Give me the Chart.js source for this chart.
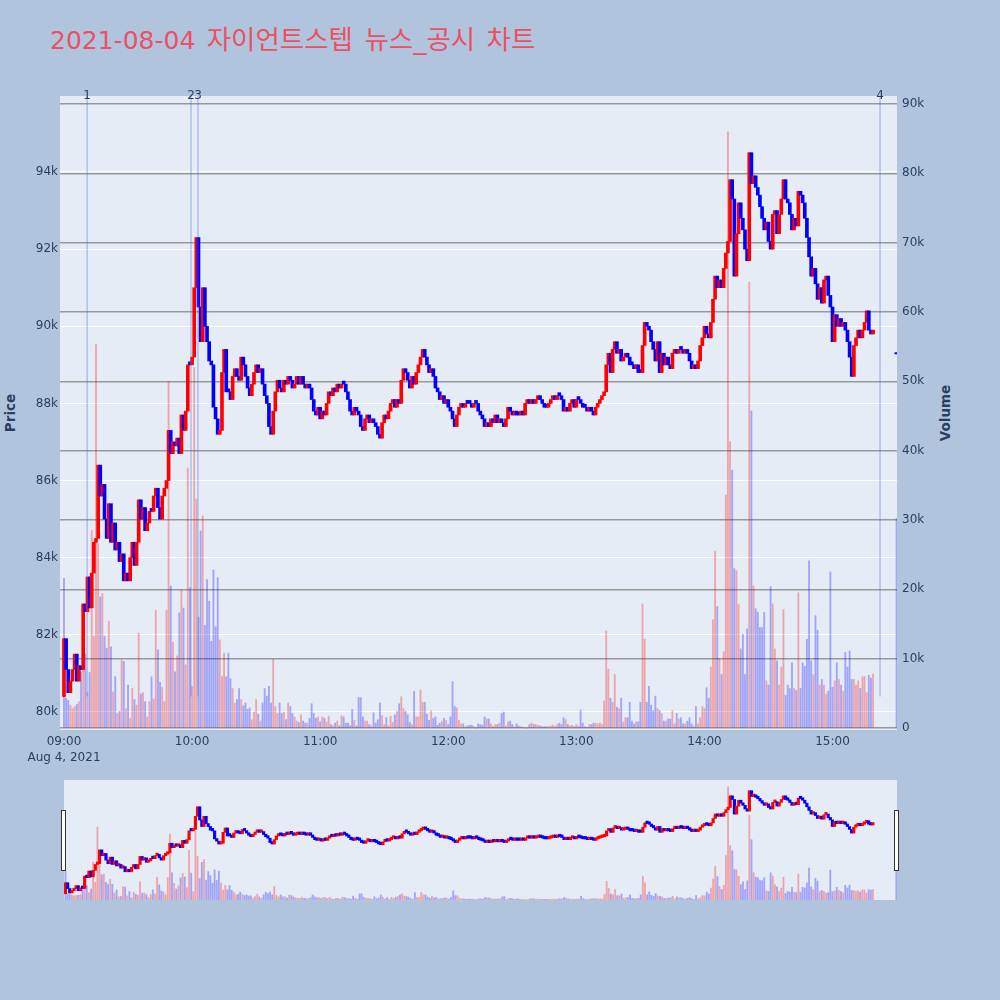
<!DOCTYPE html>
<html>
<head>
<meta charset="utf-8">
<script src="https://cdn.jsdelivr.net/npm/chart.js@4.4.0/dist/chart.umd.min.js"></script>
<style>
  body { margin: 0; background: #b0c4de; }
  #wrap { position: relative; width: 1000px; height: 1000px; font-family: "DejaVu Sans", "Noto Sans CJK KR", sans-serif; }
  #title { position: absolute; left: 50px; top: 23px; font-size: 26.5px; line-height: 34px; word-spacing: 3px; color: rgb(236, 80, 99); white-space: nowrap; }
  #title .date { font-size: 25px; }
  .axis-title { position: absolute; font-size: 13.5px; font-weight: bold; color: #2a3f5f; white-space: nowrap;
    transform: translate(-50%, -50%) rotate(-90deg); }
  canvas { position: absolute; left: 0; }
  .handle { position: absolute; top: 810px; width: 3px; height: 59px; background: #fff; border: 1px solid #333; }
</style>
</head>
<body>
<div id="wrap">
  <div id="title"><span class="date">2021-08-04</span> 자이언트스텝 뉴스_공시 차트</div>
  <div class="axis-title" style="left:10px; top:413px;">Price</div>
  <div class="axis-title" style="left:945px; top:413px;">Volume</div>
  <canvas id="main" width="1000" height="780" style="top:0; width:1000px; height:780px"></canvas>
  <canvas id="slider" width="1000" height="120" style="top:780px; width:1000px; height:120px"></canvas>
  <div class="handle" style="left:61px"></div>
  <div class="handle" style="left:894px"></div>
</div>
<script>
// 1-minute candles from 09:00, one close per minute
const firstOpen = 80400;
const prevDayClose = 82000;
const closes = [
  81900, 81100, 80500, 80800, 81100, 81500, 80800, 81200, 81100, 82800,
  82600, 83500, 82700, 83600, 84400, 84500, 86400, 85600, 85900, 85000,
  84500, 85400, 84400, 84900, 84200, 84400, 83900, 84100, 83400, 83600,
  83400, 84000, 84400, 83800, 84400, 85500, 85000, 85300, 84700, 84900,
  85200, 85200, 85600, 85800, 85300, 85000, 85600, 85800, 86000, 87300,
  86700, 87000, 86900, 87100, 86700, 87700, 87300, 87800, 89000, 89000,
  89200, 91000, 92300, 90500, 89600, 91000, 90000, 89600, 89100, 89000,
  87900, 87600, 87200, 87300, 88800, 89400, 88300, 88300, 88100, 88700,
  88900, 88700, 88600, 89200, 89000, 88700, 88400, 88200, 88500, 88800,
  89000, 88800, 88900, 88500, 88200, 88000, 87400, 87200, 87800, 88300,
  88600, 88400, 88300, 88600, 88500, 88700, 88600, 88400, 88500, 88700,
  88500, 88700, 88500, 88400, 88500, 88400, 88100, 87800, 87700, 87900,
  87600, 87800, 87700, 88000, 88300, 88200, 88400, 88300, 88500, 88400,
  88500, 88500, 88300, 88100, 87800, 87700, 87900, 87800, 87700, 87400,
  87300, 87600, 87700, 87500, 87600, 87500, 87400, 87200, 87100, 87500,
  87700, 87600, 87800, 88000, 88100, 87900, 88100, 88000, 88600, 88900,
  88800, 88600, 88400, 88700, 88500, 88800, 89000, 89200, 89400, 89200,
  89000, 88800, 88900, 88700, 88400, 88300, 88100, 88200, 88000, 88100,
  87900, 87800, 87600, 87400, 87700, 87900, 88000, 87900, 88000, 88000,
  88000, 87900, 88000, 88000, 87800, 87700, 87600, 87400, 87500, 87400,
  87600, 87500, 87700, 87500, 87600, 87500, 87400, 87600, 87900, 87800,
  87700, 87800, 87700, 87700, 87800, 87700, 88000, 88100, 88000, 88100,
  88000, 88100, 88200, 88100, 88000, 87900, 87900, 88000, 88100, 88200,
  88100, 88200, 88200, 88100, 87800, 87900, 87800, 88000, 88100, 87900,
  88100, 88100, 88000, 87900, 87900, 87800, 87900, 87800, 87700, 87900,
  88000, 88100, 88200, 88300, 89000, 89300, 88800, 89400, 89600, 89300,
  89400, 89100, 89200, 89300, 89200, 89000, 89000, 88900, 89000, 88800,
  88800, 89500, 90100, 90000, 89900, 89600, 89400, 89100, 89600, 88800,
  89300, 89000, 89200, 89000, 88900, 89300, 89400, 89300, 89400, 89400,
  89300, 89400, 89300, 89100, 88900, 89000, 88900, 89100, 89500, 89700,
  90000, 89800, 89700, 90100, 90700, 91300, 91000, 91200, 91000, 91500,
  91900, 92200, 93800, 93300, 91300, 92400, 93200, 92800, 92500, 92000,
  91700, 94500, 93700, 93900, 93600, 93400, 93100, 92800, 92500, 92700,
  92200, 92000, 92900, 93000, 92400, 92900, 93300, 93800, 93300, 93200,
  92900, 92500, 92800, 92600, 93500, 93400, 93200, 92800, 92300, 91800,
  91300, 91500, 91100, 90700, 91000, 90600, 91200, 91300, 90800, 90500,
  89600, 90300, 90000, 90200, 90000, 90100, 89900, 89600, 89200, 88700,
  89500, 89700, 89900, 89700, 89900, 90100, 90400, 89900, 89800, 89900
];
const volumes = [
  21600, 4300, 4000, 3300, 2800, 3100, 3400, 3800, 8100, 11000,
  10700, 5200, 8000, 28500, 13200, 55300, 26600, 18900, 19400, 13200,
  11500, 15400, 11700, 5200, 7400, 2100, 2400, 9800, 9600, 2800,
  6200, 1400, 5700, 4100, 3300, 13700, 4900, 5100, 3800, 1600,
  3800, 7400, 4200, 17000, 11300, 6600, 5900, 3800, 17000, 50000,
  20500, 12400, 8100, 10400, 16600, 19900, 17300, 9100, 37500, 20200,
  6000, 52000, 33000, 16000, 28400, 30600, 14800, 21400, 18300, 12500,
  22800, 14600, 21700, 12700, 7400, 10800, 7400, 10800, 7100, 5700,
  3600, 4100, 5700, 4100, 3200, 3600, 2700, 2900, 1200, 2300,
  4100, 2000, 1000, 3600, 5700, 4600, 6000, 3600, 9900, 3100,
  2100, 3600, 2100, 2300, 1200, 3600, 3100, 2100, 1600, 1000,
  800, 1900, 1000, 700, 700, 1400, 3500, 2100, 1400, 1600,
  900, 1600, 1400, 900, 1700, 500, 300, 700, 1000, 300,
  1800, 1600, 700, 700, 300, 2700, 1100, 300, 4400, 4400,
  1600, 1000, 1000, 500, 300, 2200, 700, 1200, 3600, 1800,
  500, 1500, 300, 1700, 800, 1900, 2400, 3500, 4500, 2800,
  2400, 1900, 800, 500, 5300, 1600, 1600, 5500, 3700, 3700,
  2000, 1100, 2500, 1400, 1600, 400, 700, 1000, 1400, 1100,
  500, 1600, 6700, 3100, 2900, 1100, 600, 600, 200, 300,
  400, 400, 200, 0, 600, 500, 400, 1600, 1300, 1300,
  600, 200, 500, 500, 700, 2100, 2300, 300, 900, 1000,
  500, 200, 600, 300, 200, 100, 0, 0, 500, 700,
  500, 500, 400, 300, 200, 200, 200, 200, 300, 400,
  200, 500, 700, 500, 1500, 1200, 500, 300, 400, 200,
  500, 200, 2600, 700, 200, 100, 500, 500, 700, 700,
  600, 700, 500, 3900, 14000, 8500, 4300, 3700, 7700, 3000,
  2800, 4300, 900, 1500, 1500, 3700, 1000, 600, 900, 900,
  3700, 17900, 12800, 3700, 6000, 3300, 2500, 4600, 2800, 2500,
  2100, 1000, 1000, 1300, 1300, 2500, 600, 2100, 1300, 1500,
  600, 600, 1000, 1500, 600, 300, 3100, 600, 1500, 3100,
  2800, 5800, 4300, 8800, 15600, 25500, 17500, 10000, 7700, 11000,
  33600, 86000, 41300, 37200, 23000, 22700, 17800, 11400, 13500, 7700,
  14300, 64300, 45700, 20500, 17200, 16700, 14500, 14500, 16700, 6800,
  6200, 20400, 17900, 11400, 9700, 6200, 8800, 17100, 4700, 6200,
  5700, 9400, 5700, 5400, 19500, 5700, 9400, 8900, 12800, 24100,
  9700, 7700, 16200, 14100, 6200, 7000, 6200, 4900, 5300, 22500,
  5900, 6800, 9400, 7000, 6200, 5300, 10900, 8800, 11100, 7000,
  7000, 6200, 6800, 5700, 7400, 7400, 5100, 7600, 7200, 7800
];
// closing auction (single price)
const auctionTime = "15:30";
const auctionPrice = 89300;
const auctionVolume = 30200;

const newsTimes = ["09:10:50", "09:59:30", "10:02:45", "15:22:15"];
const newsLabels = ["1", "2", "3", "4"];

const hourTicks = ["09:00", "10:00", "11:00", "12:00", "13:00", "14:00", "15:00"];
const dateLabel = "Aug 4, 2021";
const priceTicks = [80000, 82000, 84000, 86000, 88000, 90000, 92000, 94000];
const volumeTicks = [0, 10000, 20000, 30000, 40000, 50000, 60000, 70000, 80000, 90000];

const UP = "#ff0000";
const DOWN = "#0000ff";
const UP_VOL = "rgba(255, 0, 0, 0.3)";
const DOWN_VOL = "rgba(0, 0, 255, 0.3)";
const PRICE_RANGE = [79533, 95970];
const VOL_RANGE = [-288, 91154];
const NEWS_FLOOR = 80400;

Chart.defaults.font.family = "'DejaVu Sans', sans-serif";
Chart.defaults.font.size = 12;
Chart.defaults.color = "#2a3f5f";

function toMinutes(t) {
  const p = t.split(":").map(Number);
  return p[0] * 60 + p[1] + (p[2] || 0) / 60 - 540;
}

const opens = closes.map((c, i) => (i === 0 ? firstOpen : closes[i - 1]));
const candleData = closes.map((c, i) => ({ x: i, y: [opens[i], c] }));
const candleColors = closes.map((c, i) => (c > opens[i] ? UP : DOWN));
const volData = volumes.map((v, i) => ({ x: i, y: v }));
const volColors = volumes.map((v, i) =>
  closes[i] > (i === 0 ? prevDayClose : closes[i - 1]) ? UP_VOL : DOWN_VOL);
volData.push({ x: toMinutes(auctionTime), y: auctionVolume });
volColors.push(auctionPrice > closes[closes.length - 1] ? UP_VOL : DOWN_VOL);

function makeDatasets(candleWidth, volWidth, minLen) {
  return [
    {
      type: "scatter",
      data: [{ x: toMinutes(auctionTime), y: auctionPrice }],
      yAxisID: "y",
      pointStyle: "line",
      radius: 2,
      hoverRadius: 2,
      borderWidth: 2,
      borderColor: DOWN,
      order: 0,
    },
    {
      type: "bar",
      data: candleData,
      yAxisID: "y",
      backgroundColor: candleColors,
      barThickness: candleWidth,
      minBarLength: minLen,
      grouped: false,
      order: 1,
    },
    {
      type: "bar",
      data: volData,
      yAxisID: "yv",
      backgroundColor: volColors,
      barThickness: volWidth,
      grouped: false,
      order: 2,
    },
  ];
}

const plotBg = {
  id: "plotBg",
  beforeDraw(chart) {
    const { ctx, chartArea: a } = chart;
    ctx.save();
    ctx.fillStyle = "#e5ecf6";
    ctx.fillRect(a.left, a.top, a.right - a.left, a.bottom - a.top);
    ctx.restore();
  },
};

const newsMarks = {
  id: "newsMarks",
  afterDatasetsDraw(chart) {
    const { ctx, chartArea: a, scales } = chart;
    const yEnd = scales.y.getPixelForValue(NEWS_FLOOR);
    ctx.save();
    ctx.strokeStyle = "rgba(65, 105, 225, 0.35)";
    ctx.lineWidth = 1.5;
    newsTimes.forEach((t) => {
      const x = scales.x.getPixelForValue(toMinutes(t));
      ctx.beginPath();
      ctx.moveTo(x, a.top);
      ctx.lineTo(x, yEnd);
      ctx.stroke();
    });
    ctx.fillStyle = "#2a3f5f";
    ctx.font = "12px 'DejaVu Sans', sans-serif";
    ctx.textAlign = "center";
    ctx.textBaseline = "middle";
    newsTimes.forEach((t, i) => {
      const x = scales.x.getPixelForValue(toMinutes(t));
      ctx.fillText(newsLabels[i], x, a.top);
    });
    ctx.restore();
  },
};

const fmtK = (v) => (v === 0 ? "0" : v / 1000 + "k");

new Chart(document.getElementById("main"), {
  type: "bar",
  data: { datasets: makeDatasets(3, 1.2, 3) },
  options: {
    responsive: false,
    animation: false,
    devicePixelRatio: 1,
    layout: { autoPadding: false, padding: { top: 96, left: 0, right: 0, bottom: 0 } },
    plugins: { legend: { display: false }, tooltip: { enabled: false } },
    scales: {
      x: {
        type: "linear",
        offset: false,
        min: -1.87,
        max: 390.2,
        grid: { display: false },
        border: { display: false },
        afterBuildTicks: (s) => { s.ticks = hourTicks.map((h) => ({ value: toMinutes(h) })); },
        afterFit: (s) => { s.height = 50; },
        ticks: {
          padding: -4,
          maxRotation: 0,
          autoSkip: false,
          font: { size: 12, lineHeight: 1.35 },
          callback: (v, i) => (i === 0 ? [hourTicks[i], dateLabel] : hourTicks[i]),
        },
      },
      y: {
        position: "left",
        min: PRICE_RANGE[0],
        max: PRICE_RANGE[1],
        grid: { color: "#ffffff", lineWidth: 1, drawTicks: false },
        border: { display: false },
        afterBuildTicks: (s) => { s.ticks = priceTicks.map((v) => ({ value: v })); },
        afterFit: (s) => { s.width = 60; },
        ticks: { padding: 2, callback: fmtK },
      },
      yv: {
        position: "right",
        min: VOL_RANGE[0],
        max: VOL_RANGE[1],
        grid: { color: "#999999", lineWidth: 1.5, drawTicks: false },
        border: { display: false },
        afterBuildTicks: (s) => { s.ticks = volumeTicks.map((v) => ({ value: v })); },
        afterFit: (s) => { s.width = 103; },
        ticks: { padding: 5, callback: fmtK },
      },
    },
  },
  plugins: [plotBg, newsMarks],
});

new Chart(document.getElementById("slider"), {
  type: "bar",
  data: { datasets: makeDatasets(2.5, 1.2, 2.5) },
  options: {
    responsive: false,
    animation: false,
    devicePixelRatio: 1,
    layout: { autoPadding: false, padding: { top: 0, left: 64, right: 103, bottom: 0 } },
    plugins: { legend: { display: false }, tooltip: { enabled: false } },
    scales: {
      x: { type: "linear", offset: false, display: false, min: -0.7, max: 390.3 },
      y: { display: false, min: PRICE_RANGE[0], max: PRICE_RANGE[1] },
      yv: { display: false, position: "right", min: VOL_RANGE[0], max: VOL_RANGE[1] },
    },
  },
  plugins: [plotBg],
});
</script>
</body>
</html>
